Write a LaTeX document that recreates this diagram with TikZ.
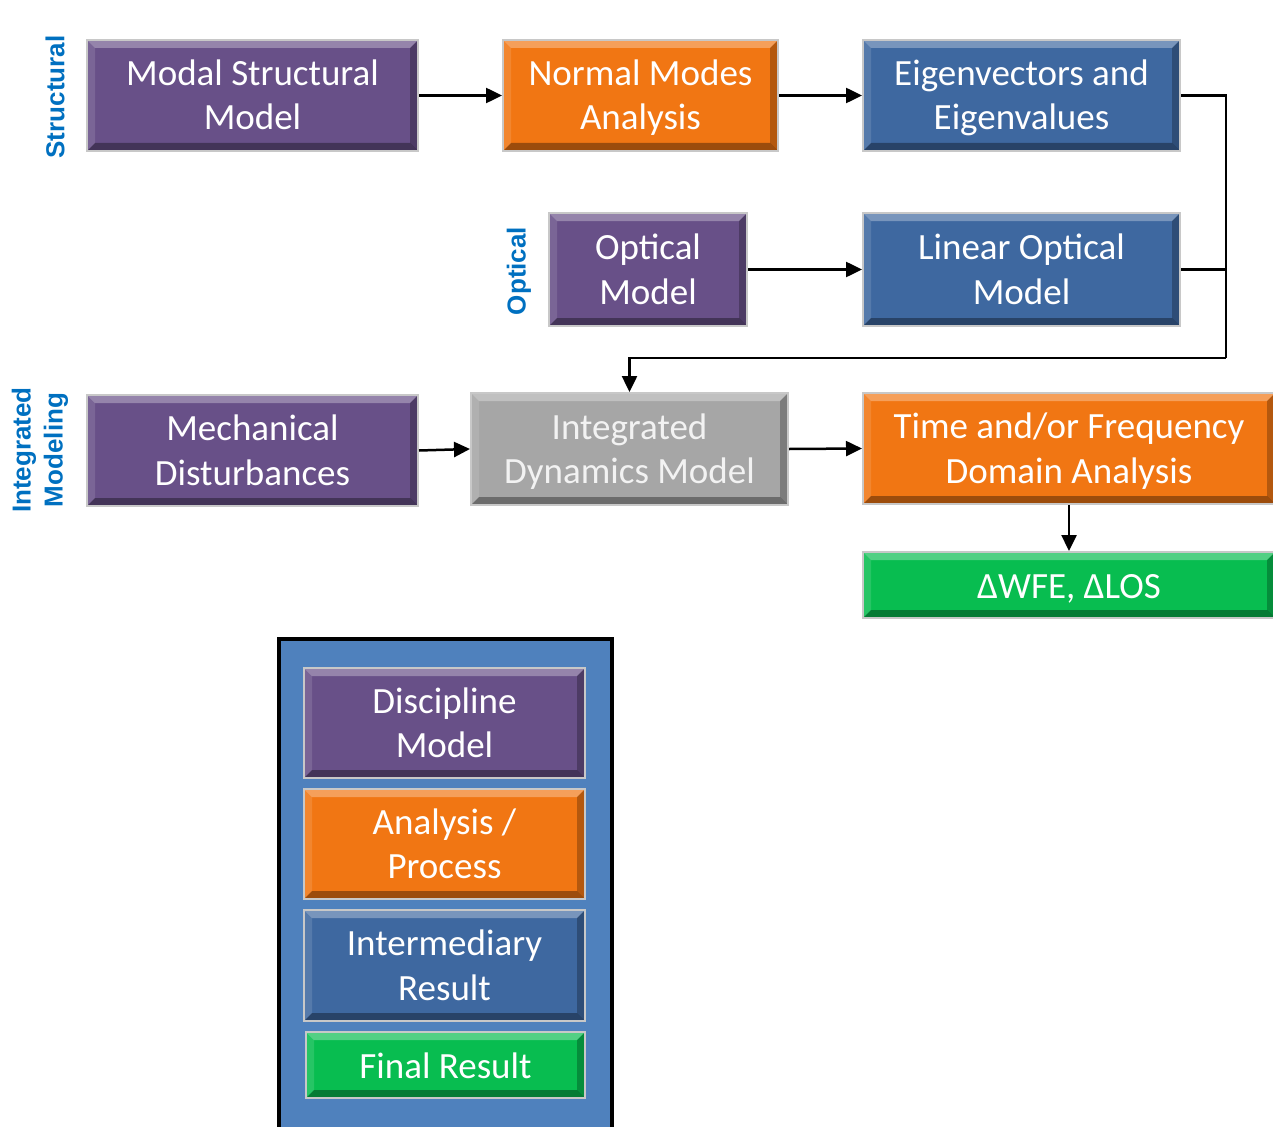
\documentclass[tikz,border=0pt]{standalone}
\usepackage{fontspec}
\usetikzlibrary{arrows.meta}
\newfontfamily\boxfont{Carlito}
\newfontfamily\lblfont{Liberation Sans}
\definecolor{cpurple}{RGB}{104,80,136}
\definecolor{corange}{RGB}{241,118,19}
\definecolor{cblue}{RGB}{62,104,160}
\definecolor{cgray}{RGB}{166,166,166}
\definecolor{cgreen}{RGB}{8,189,80}
\definecolor{clabel}{RGB}{0,112,192}
\definecolor{clegend}{RGB}{79,129,189}
\definecolor{cborder}{RGB}{200,200,200}
\begin{document}
\begin{tikzpicture}[x=1pt,y=-1pt,
  bev/.style={draw=cborder, line width=2pt, fill=#1, text=white,
    font=\boxfont\fontsize{37}{44.5}\selectfont, align=center, inner sep=0pt,
    text height=69pt, text depth=0pt,
    path picture={
      \coordinate (nw) at (path picture bounding box.north west);
      \coordinate (ne) at (path picture bounding box.north east);
      \coordinate (sw) at (path picture bounding box.south west);
      \coordinate (se) at (path picture bounding box.south east);
      \fill[white, opacity=0.30] (nw) -- (ne) -- ([shift={(-8pt,-8pt)}]ne) -- ([shift={(8pt,-8pt)}]nw) -- cycle;
      \fill[white, opacity=0.12] (nw) -- (sw) -- ([shift={(8pt,8pt)}]sw) -- ([shift={(8pt,-8pt)}]nw) -- cycle;
      \fill[black, opacity=0.25] (ne) -- (se) -- ([shift={(-8pt,8pt)}]se) -- ([shift={(-8pt,-8pt)}]ne) -- cycle;
      \fill[black, opacity=0.35] (sw) -- (se) -- ([shift={(-8pt,8pt)}]se) -- ([shift={(8pt,8pt)}]sw) -- cycle;
      \draw[black, opacity=0.5, line width=1pt] (path picture bounding box.north west) rectangle (path picture bounding box.south east);
    }},
  oneline/.style={text height=27pt, text depth=0pt},
  lbl/.style={text=clabel, font=\lblfont\bfseries\fontsize{26}{32}\selectfont, rotate=90, align=center, inner sep=0pt},
  arr/.style={line width=2.5pt, -{Triangle[length=16pt,width=15pt]}},
  con/.style={line width=2.5pt}
]
\useasboundingbox (0,0) rectangle (1273,1126);

% legend frame
\node[draw=black, line width=4pt, fill=clegend, minimum width=333pt, minimum height=490pt, inner sep=0pt] (legend) at (445.5,884) {};

% labels
\node[lbl] (lstruct) at (55,97) {Structural};
\node[lbl] (lopt) at (519,271) {Optical};
\node[lbl] (lint) at (40,450) {Integrated\\Modeling};

% boxes
\node[bev=cpurple, minimum width=331pt, minimum height=111pt] (modal) at (252.5,95.5) {Modal Structural\\Model};
\node[bev=corange, minimum width=275pt, minimum height=111pt] (normal) at (640.5,95.5) {Normal Modes\\Analysis};
\node[bev=cblue, minimum width=317pt, minimum height=111pt] (eigen) at (1021.5,95.5) {Eigenvectors and\\Eigenvalues};
\node[bev=cpurple, minimum width=198pt, minimum height=113pt] (optical) at (648,269.5) {Optical\\Model};
\node[bev=cblue, minimum width=317pt, minimum height=113pt] (linopt) at (1021.5,269.5) {Linear Optical\\Model};
\node[bev=cpurple, minimum width=331pt, minimum height=111pt] (mech) at (252.5,450.5) {Mechanical\\Disturbances};
\node[bev=cgray, text={rgb,255:red,242;green,242;blue,242}, minimum width=317pt, minimum height=112pt] (integ) at (629.5,449) {Integrated\\Dynamics Model};
\node[bev=corange, minimum width=412pt, minimum height=111pt] (time) at (1069,448.5) {Time and/or Frequency\\Domain Analysis};
\node[bev=cgreen, oneline, minimum width=412pt, minimum height=66pt] (wfe) at (1069,585) {ΔWFE, ΔLOS};

% legend boxes
\node[bev=cpurple, minimum width=281pt, minimum height=110pt] (kdisc) at (444.5,723) {Discipline\\Model};
\node[bev=corange, minimum width=281pt, minimum height=110pt] (kana) at (444.5,844) {Analysis /\\Process};
\node[bev=cblue, minimum width=281pt, minimum height=111pt] (kint) at (444.5,965.5) {Intermediary\\Result};
\node[bev=cgreen, oneline, minimum width=279pt, minimum height=66pt] (kfin) at (445.5,1065) {Final Result};

% connectors
\coordinate (j) at (1226,358);
\draw[arr] (modal.east) -- (normal.west);
\draw[arr] (normal.east) -- (eigen.west);
\draw[arr] (optical.east) -- (linopt.west);
\draw[con] (eigen.east) -| (j);
\draw[con] (linopt.east) -- (linopt.east -| j);
\draw[arr] (j) -| (integ.north);
\draw[arr] (mech.east) -- (integ.west);
\draw[arr] (integ.east) -- (time.west);
\draw[arr] (time.south) -- (wfe.north);
\end{tikzpicture}
\end{document}
